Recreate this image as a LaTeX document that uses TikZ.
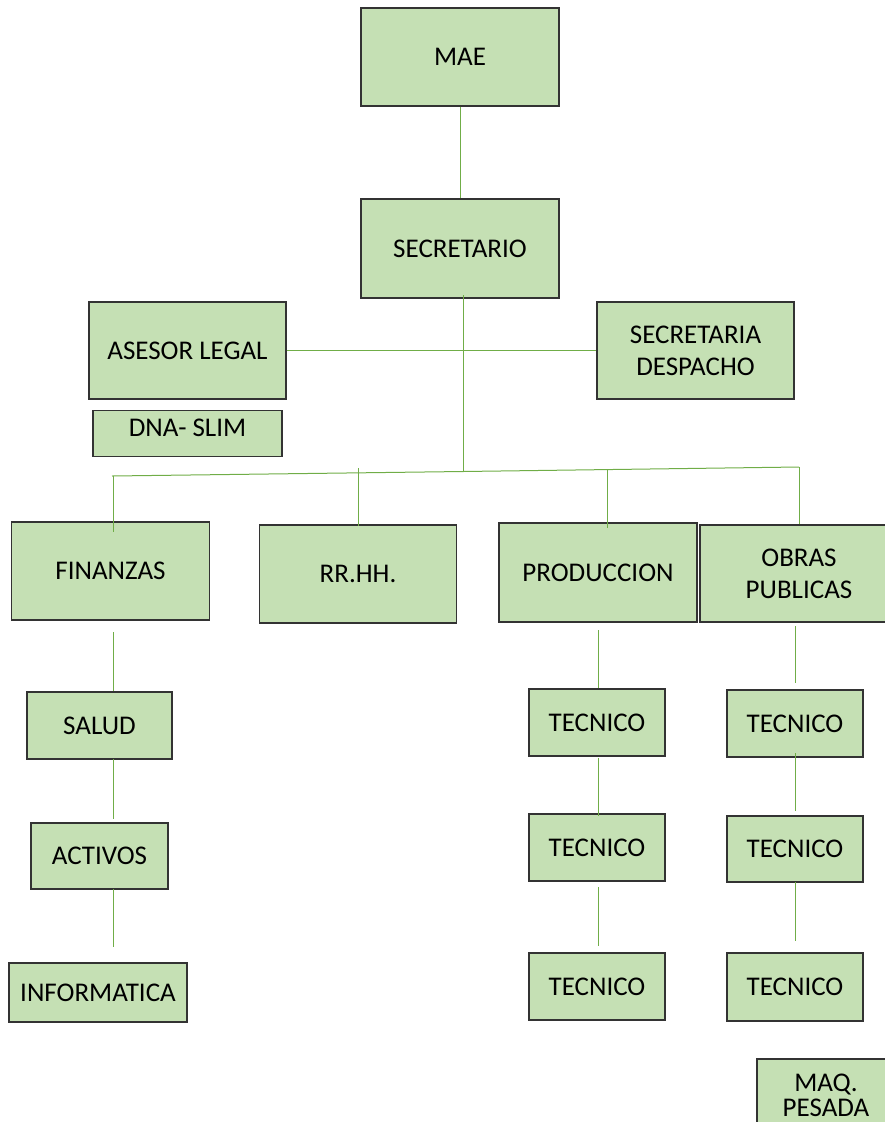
\documentclass[tikz,border=0pt]{standalone}
\usepackage{fontspec}
\setmainfont{Carlito}
\usetikzlibrary{calc}
\definecolor{boxgreen}{HTML}{C5E0B4}
\definecolor{linkgreen}{HTML}{70AD47}
\begin{document}
\begin{tikzpicture}[x=1pt,y=-1pt,
  orgbox/.style={draw=black!80, fill=boxgreen, line width=1.2pt, inner sep=0pt,
    align=center, font=\fontsize{27}{32}\selectfont},
  link/.style={draw=linkgreen, line width=1pt}]
\useasboundingbox (0,0) rectangle (885,1122);
\clip (0,0) rectangle (885,1122);
% top
\node[orgbox, minimum width=198pt, minimum height=98pt] (mae) at (460,57) {MAE};
\node[orgbox, minimum width=198pt, minimum height=99pt] (sec) at (460,248.5) {SECRETARIO};
\node[orgbox, minimum width=197pt, minimum height=97pt] (ase) at (187.5,350.5) {ASESOR LEGAL};
\node[orgbox, minimum width=197pt, minimum height=97pt] (secd) at (695.5,350.5) {SECRETARIA\\DESPACHO};
\node[orgbox, minimum width=189pt, minimum height=46pt] (dna) at (187.5,433.5) {\raisebox{-3pt}[0pt][0pt]{DNA- SLIM}};
% second level
\node[orgbox, minimum width=198pt, minimum height=98pt] (fin) at (110.5,571) {FINANZAS};
\node[orgbox, minimum width=197pt, minimum height=98pt] (rrhh) at (358,574) {RR.HH.};
\node[orgbox, minimum width=198pt, minimum height=99pt] (prod) at (598,572.5) {PRODUCCION};
\node[orgbox, minimum width=198pt, minimum height=97pt] (obras) at (799,573.5) {OBRAS\\PUBLICAS};
% left column
\node[orgbox, minimum width=145pt, minimum height=67pt] (sal) at (99.5,725.5) {SALUD};
\node[orgbox, minimum width=137pt, minimum height=66pt] (act) at (99.5,856) {ACTIVOS};
\node[orgbox, minimum width=178pt, minimum height=59pt] (inf) at (98,992.5) {INFORMATICA};
% production column
\node[orgbox, minimum width=136pt, minimum height=67pt] (pt1) at (597,722.5) {TECNICO};
\node[orgbox, minimum width=136pt, minimum height=67pt] (pt2) at (597,847.5) {TECNICO};
\node[orgbox, minimum width=136pt, minimum height=67pt] (pt3) at (597,986.5) {TECNICO};
% obras column
\node[orgbox, minimum width=136pt, minimum height=67pt] (ot1) at (795,723.5) {TECNICO};
\node[orgbox, minimum width=136pt, minimum height=66pt] (ot2) at (795,849) {TECNICO};
\node[orgbox, minimum width=136pt, minimum height=68pt] (ot3) at (795,987) {TECNICO};
\node[orgbox, minimum width=138pt, minimum height=72pt, font=\fontsize{27}{25}\selectfont] (maq) at (826,1095) {MAQ.\\PESADA};
% connectors
\draw[link] (mae.south) -- (sec.south |- sec.north);
\draw[link] (ase.east) -- (secd.west);
\coordinate (s0) at (463,295);
\coordinate (hub) at (463,471.5);
\draw[link] (s0) -- (hub);
\coordinate (busL) at (112,476);
\coordinate (busR) at (799,467);
\draw[link] (busL) -- (hub) -- (busR);
\coordinate (d1) at (113,476);
\coordinate (d2) at (358,468);
\coordinate (d3) at (607,470);
\coordinate (d4) at (799,467);
\draw[link] (d1) -- ($(d1 |- fin.north)+(0,11)$);
\draw[link] (d2) -- ($(d2 |- rrhh.north)+(0,2)$);
\draw[link] (d3) -- ($(d3 |- prod.north)+(0,6)$);
\draw[link] (d4) -- (d4 |- obras.north);
% left column links
\coordinate (f1) at (113,632);
\draw[link] (f1) -- (f1 |- sal.north);
\coordinate (f2) at (113,759);
\draw[link] (f2) -- ($(f2 |- act.north)+(0,-3)$);
\coordinate (f3) at (113,889);
\draw[link] (f3) -- ($(f3 |- inf.north)+(0,-15)$);
% production links
\coordinate (p1) at (598.5,630);
\draw[link] (p1) -- (p1 |- pt1.north);
\coordinate (p2) at (598.5,758);
\draw[link] (p2) -- ($(p2 |- pt2.north)+(0,3)$);
\coordinate (p3) at (598.5,887);
\draw[link] (p3) -- ($(p3 |- pt3.north)+(0,-6)$);
% obras links
\coordinate (o1) at (795,626);
\draw[link] (o1) -- ($(o1 |- ot1.north)+(0,-6)$);
\coordinate (o2) at (795,753);
\draw[link] (o2) -- ($(o2 |- ot2.north)+(0,-4)$);
\coordinate (o3) at (795,882);
\draw[link] (o3) -- ($(o3 |- ot3.north)+(0,-11)$);
\end{tikzpicture}
\end{document}
